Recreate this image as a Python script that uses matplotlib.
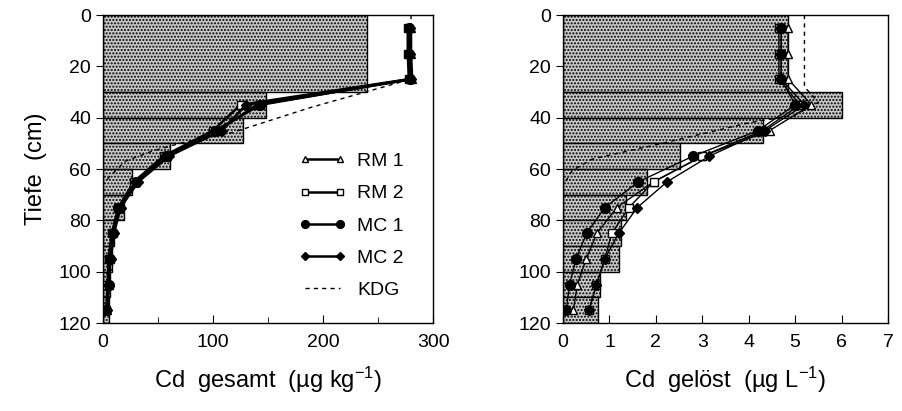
import numpy as np
import matplotlib
matplotlib.use("Agg")
import matplotlib.pyplot as plt

plt.rcParams['font.family'] = ['Liberation Sans Narrow', 'Liberation Sans', 'DejaVu Sans']
plt.rcParams['mathtext.default'] = 'regular'
plt.rcParams['hatch.color'] = '#707070'
plt.rcParams['hatch.linewidth'] = 1.0

# soil layers (top, bottom) in cm
layer_top = [0, 30, 40, 50, 60, 70, 80, 90, 100, 110]
layer_bot = [30, 40, 50, 60, 70, 80, 90, 100, 110, 120]

# measured Cd per layer
cd_total_meas = [240, 148, 127, 61, 26, 19, 10, 8, 6, 5]
cd_sol_meas = [4.85, 6.0, 4.3, 2.52, 1.81, 1.35, 1.25, 1.2, 0.8, 0.75]

# simulated profiles
depth = [5, 15, 25, 35, 45, 55, 65, 75, 85, 95, 105, 115]

tot_rm1 = [280, 280, 281, 140, 105, 58, 30, 15, 9, 6, 5, 4]
tot_rm2 = [277, 277, 278, 125, 100, 55, 28, 14, 8, 5, 4, 3]
tot_mc1 = [278, 278, 279, 143, 102, 57, 30, 14, 9, 6, 5, 3]
tot_mc2 = [279, 279, 280, 130, 108, 60, 32, 16, 10, 7, 5, 4]

sol_rm1 = [4.85, 4.85, 4.85, 5.35, 4.45, 3.0, 1.95, 1.16, 0.73, 0.5, 0.31, 0.22]
sol_rm2 = [4.65, 4.65, 4.65, 5.1, 4.3, 3.0, 1.95, 1.42, 1.05, 0.9, 0.72, 0.56]
sol_mc1 = [4.7, 4.7, 4.7, 5.0, 4.2, 2.8, 1.62, 0.9, 0.51, 0.28, 0.14, 0.07]
sol_mc2 = [4.7, 4.7, 4.7, 5.2, 4.35, 3.15, 2.24, 1.6, 1.2, 0.9, 0.72, 0.56]

# KDG model curves
kdg_tot_x = [280, 280, 189, 116, 70, 45, 20, 6, 0]
kdg_tot_d = [0, 25, 36, 46, 50, 53, 57, 63, 66]
kdg_sol_x = [5.2, 5.2, 5.5, 5.0, 4.0, 2.6, 1.9, 0.65, 0.2, 0.05]
kdg_sol_d = [0, 28, 34, 39, 42, 48, 51, 56, 60.5, 65]

styles = [
    ('RM 1', dict(marker='^', mfc='white', mec='black', ms=6)),
    ('RM 2', dict(marker='s', mfc='white', mec='black', ms=6)),
    ('MC 1', dict(marker='o', mfc='black', mec='black', ms=7)),
    ('MC 2', dict(marker='D', mfc='black', mec='black', ms=5)),
]

fig = plt.figure(figsize=(9.02, 4.11), dpi=100)
ax1 = fig.add_axes([0.1142, 0.2141, 0.3659, 0.7494])
ax2 = fig.add_axes([0.6242, 0.2141, 0.3603, 0.7494])


def draw_panel(ax, meas, series, kdg_x, kdg_d, lw):
    heights = np.array(layer_bot) - np.array(layer_top)
    ax.barh(layer_top, meas, height=heights, align='edge', color='#cacaca',
            edgecolor='black', linewidth=1.0, hatch='.....', zorder=1)
    ax.plot(kdg_x, kdg_d, color='black', lw=1.0, ls=(0, (3, 3)), label='KDG', zorder=2)
    for (name, st), vals in zip(styles, series):
        ax.plot(vals, depth, color='black', lw=lw, label=name, zorder=3, **st)
    ax.set_ylim(120, 0)
    ax.set_yticks(range(0, 121, 20))
    ax.tick_params(axis='y', direction='out', length=5, labelsize=14)
    ax.tick_params(axis='x', direction='in', length=6, labelsize=14, pad=8)
    ax.tick_params(axis='x', which='minor', direction='in', length=4)
    for s in ax.spines.values():
        s.set_linewidth(1.0)


draw_panel(ax1, cd_total_meas, [tot_rm1, tot_rm2, tot_mc1, tot_mc2],
           kdg_tot_x, kdg_tot_d, 1.8)
ax1.set_xlim(0, 300)
ax1.set_xticks([0, 100, 200, 300])
ax1.set_xticks([50, 150, 250], minor=True)
ax1.set_xlabel('Cd  gesamt  (µg kg$^{-1}$)', fontsize=17, labelpad=10)
ax1.set_ylabel('Tiefe  (cm)', fontsize=17, labelpad=8)

draw_panel(ax2, cd_sol_meas, [sol_rm1, sol_rm2, sol_mc1, sol_mc2],
           kdg_sol_x, kdg_sol_d, 1.0)
ax2.set_xlim(0, 7)
ax2.set_xticks(range(0, 8))
ax2.set_xlabel('Cd  gelöst  (µg L$^{-1}$)', fontsize=17, labelpad=10)

handles, labels = ax1.get_legend_handles_labels()
order = [1, 2, 3, 4, 0]
ax1.legend([handles[i] for i in order], [labels[i] for i in order],
           loc='upper left', bbox_to_anchor=(0.54, 0.61), frameon=False,
           fontsize=14, numpoints=2, handlelength=2.4, handletextpad=0.6,
           labelspacing=0.75, markerscale=0.8)

fig.savefig('out.png', dpi=100)
